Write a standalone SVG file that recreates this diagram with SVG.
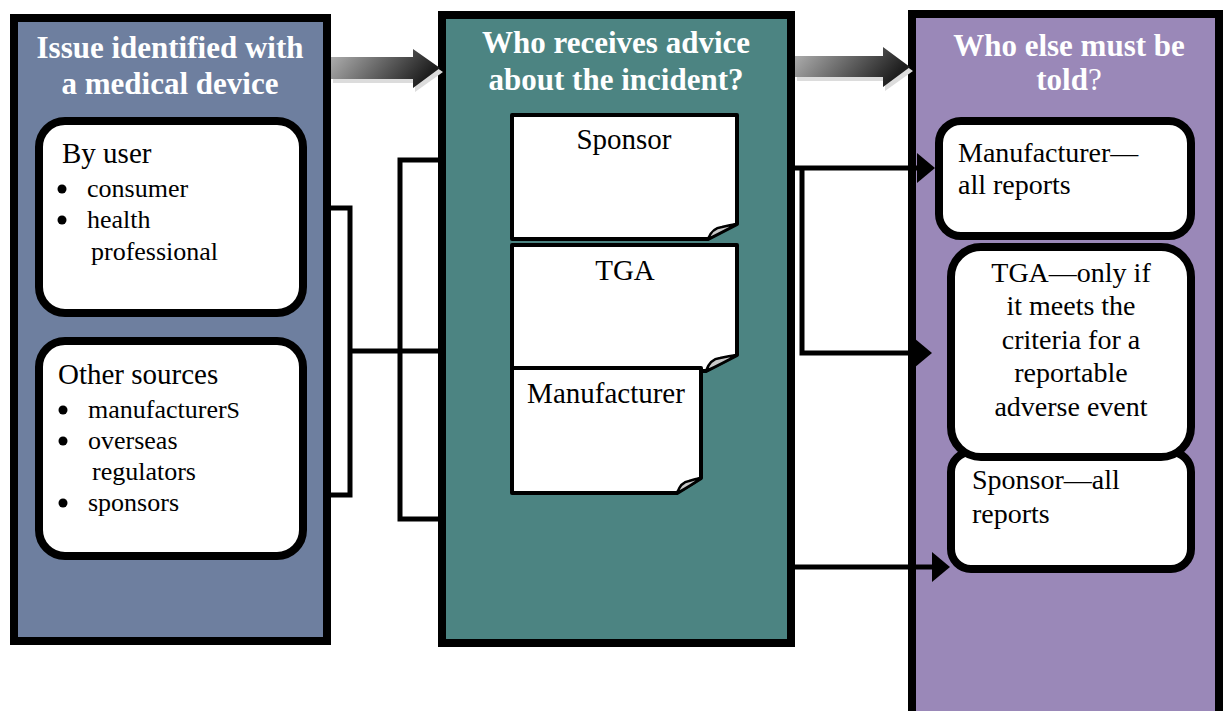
<svg xmlns="http://www.w3.org/2000/svg" width="1223" height="711" viewBox="0 0 1223 711">
<defs>
<style>
.panel{stroke:#000;stroke-width:8}
.title{font-family:"Liberation Serif",serif;font-weight:bold;font-size:31px;fill:#fff;text-anchor:middle}
.box{fill:#fff;stroke:#000;stroke-width:8}
.doc{fill:#fff;stroke:#000;stroke-width:4;stroke-linejoin:round}
.curl{fill:#c9c9c9;stroke:#000;stroke-width:2.5;stroke-linejoin:round}
.t{font-family:"Liberation Serif",serif;fill:#000}
.h{font-size:29px}
.b{font-size:26px}
.r{font-size:28px}
.c{text-anchor:middle}
.dot{fill:#000}
.conn{fill:none;stroke:#000;stroke-width:5}
</style>
<linearGradient id="ag" x1="0" y1="0" x2="1" y2="0.3">
<stop offset="0" stop-color="#b5b5b5"/>
<stop offset="0.6" stop-color="#5a5a5a"/>
<stop offset="1" stop-color="#1e1e1e"/>
</linearGradient>
<marker id="ah" markerUnits="userSpaceOnUse" markerWidth="18" markerHeight="30" viewBox="0 0 18 30" refX="8" refY="15" orient="auto">
<path d="M0,0 L18,15 L0,30 Z" fill="#000"/>
</marker>
</defs>
<rect width="1223" height="711" fill="#fff"/>

<g id="panel-issue">
<rect class="panel" x="14" y="18" width="313" height="623" fill="#6e7f9f"/>
<text class="title" x="170" y="58">Issue identified with</text>
<text class="title" x="170" y="94">a medical device</text>
</g>
<g id="panel-receives">
<rect class="panel" x="442" y="15" width="349" height="628" fill="#4c8482"/>
<text class="title" x="616" y="53">Who receives advice</text>
<text class="title" x="616" y="90">about the incident?</text>
</g>
<g id="panel-told">
<rect class="panel" x="912" y="14" width="307" height="710" fill="#9a88b8"/>
<text class="title" x="1069" y="56">Who else must be</text>
<text class="title" x="1069" y="90">told<tspan font-weight="normal">?</tspan></text>
</g>

<g id="flow-arrows">
<polygon points="333,61 415,61 415,53 443,72 415,92 415,83 333,83" fill="#dcdcdc"/>
<polygon points="331,57 413,57 413,49 440,68 413,88 413,79 331,79" fill="url(#ag)"/>
<polygon points="797,60 885,60 885,51 913,71 885,91 885,81 797,81" fill="#dcdcdc"/>
<polygon points="795,56 883,56 883,47 910,67 883,87 883,77 795,77" fill="url(#ag)"/>
</g>

<g id="box-by-user">
<rect class="box" x="39" y="121" width="264" height="192" rx="26"/>
<text class="t h" x="62" y="163">By user</text>
<circle class="dot" cx="62" cy="189" r="4.5"/>
<text class="t b" x="87" y="197">consumer</text>
<circle class="dot" cx="62" cy="220" r="4.5"/>
<text class="t b" x="87" y="228">health</text>
<text class="t b" x="91" y="260">professional</text>
</g>
<g id="box-other-sources">
<rect class="box" x="39" y="341" width="264" height="215" rx="26"/>
<text class="t h" x="58" y="384">Other sources</text>
<circle class="dot" cx="63" cy="410" r="4.5"/>
<text class="t b" x="88" y="418">manufacturer<tspan font-size="24">S</tspan></text>
<circle class="dot" cx="63" cy="441" r="4.5"/>
<text class="t b" x="88" y="449">overseas</text>
<text class="t b" x="92" y="480">regulators</text>
<circle class="dot" cx="63" cy="503" r="4.5"/>
<text class="t b" x="88" y="511">sponsors</text>
</g>

<g id="doc-sponsor">
<path class="doc" d="M512,115 H737 V224 L708,239 H512 Z"/>
<path class="curl" d="M708,239 Q712,228 722,227 Q730,225 737,224 Q726,230 708,239 Z"/>
<text class="t h c" x="624" y="149">Sponsor</text>
</g>
<g id="doc-tga">
<path class="doc" d="M512,245 H737 V355 L706,371 H512 Z"/>
<path class="curl" d="M706,371 Q710,359 720,358 Q729,356 737,355 Q725,362 706,371 Z"/>
<text class="t h c" x="625" y="280">TGA</text>
</g>
<g id="doc-manufacturer">
<path class="doc" d="M512,368 H701 V478 L677,493 H512 Z"/>
<path class="curl" d="M677,493 Q681,482 689,481 Q695,479 701,478 Q692,485 677,493 Z"/>
<text class="t h c" x="606" y="403">Manufacturer</text>
</g>

<g id="box-manufacturer-all">
<rect class="box" x="939" y="121" width="252" height="115" rx="22"/>
<text class="t r" x="958" y="162">Manufacturer—</text>
<text class="t r" x="958" y="194">all reports</text>
</g>
<g id="box-sponsor-all">
<rect class="box" x="951" y="452" width="240" height="117" rx="20"/>
<text class="t r" x="972" y="489">Sponsor—all</text>
<text class="t r" x="972" y="523">reports</text>
</g>
<g id="box-tga-only">
<rect class="box" x="951" y="247" width="240" height="210" rx="30"/>
<text class="t r c" x="1071" y="282">TGA—only if</text>
<text class="t r c" x="1071" y="315">it meets the</text>
<text class="t r c" x="1071" y="349">criteria for a</text>
<text class="t r c" x="1071" y="382">reportable</text>
<text class="t r c" x="1071" y="416">adverse event</text>
</g>

<g id="connectors">
<path class="conn" d="M329,208 H350 V495 H329"/>
<path class="conn" d="M350,351 H440"/>
<path class="conn" d="M440,160 H400 V519 H440"/>
<path class="conn" d="M792,168 H925" marker-end="url(#ah)"/>
<path class="conn" d="M802,168 V353 H922" marker-end="url(#ah)"/>
<path class="conn" d="M792,567 H940" marker-end="url(#ah)"/>
</g>
</svg>
